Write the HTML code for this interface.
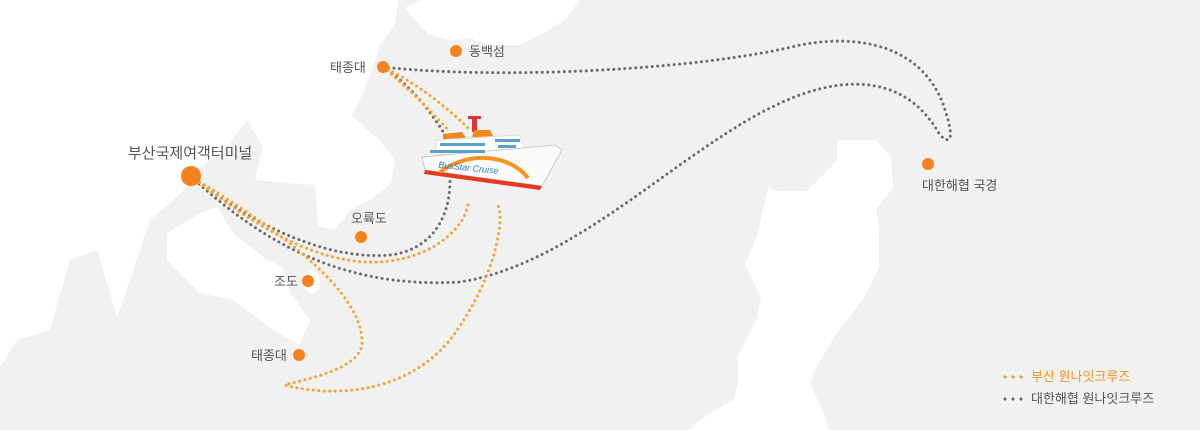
<!DOCTYPE html>
<html><head><meta charset="utf-8"><style>
html,body{margin:0;padding:0}
body{width:1200px;height:430px;overflow:hidden;background:#f1f1f1;font-family:"Liberation Sans","Noto Sans CJK KR",sans-serif}
svg{display:block}
</style></head><body>
<svg width="1200" height="430" viewBox="0 0 1200 430" xmlns="http://www.w3.org/2000/svg">
<!-- water / white areas -->
<path fill="#fff" d="M0,0 H398 L395,25 L380,45 L372,70 L360,100 L352,115 L365,128 L380,140 L395,160 L390,185 L370,200 L350,210 L335,230 L318,226 L315,185 L255,180 L263,147 L247,120 L225,150 L200,167 L187,187 L173,200 L150,220 L130,280 L117,317 L97,250 L70,260 L50,330 L17,340 L0,367 Z"/>
<path fill="#fff" d="M167,233 L200,213 L217,207 L233,233 L267,260 L283,267 L290,293 L310,320 L300,345 L273,330 L233,300 L200,293 L167,260 Z"/>
<ellipse cx="312" cy="282" rx="8" ry="12" fill="#fff"/>
<path fill="#fff" d="M420,0 H580 L565,20 L540,35 L520,45 L490,45 L470,38 L450,40 L430,35 L415,20 L405,8 Z"/>
<path fill="#fff" d="M837,140 L876,140 L891,157 L893,188 L876,209 L879,230 L879,268 L864,298 L837,333 L818,364 L810,383 L822,410 L830,430 L688,430 L707,415 L734,399 L738,383 L738,356 L757,318 L761,298 L745,264 L757,237 L768,188 L780,191 L807,191 L837,161 Z"/>
<g fill="none" stroke-linecap="round" stroke-width="3" stroke-dasharray="0 5.5">
<g stroke="#6b6b6b">
<path d="M383,67 C500,80 700,70 800,45 C880,30 930,60 945,110 C955,140 950,145 940,135 C920,100 890,80 840,85 C720,100 600,260 460,282 C330,290 250,230 190,176"/>
<path d="M190,176 C260,230 330,260 390,255 C430,250 450,220 450,180"/>
<path d="M383,67 C410,85 430,110 445,135"/>
</g>
<g stroke="#f7a030">
<path d="M383,67 C410,90 430,110 450,132"/>
<path d="M383,67 C420,85 450,110 470,130"/>
<path d="M190,176 C260,230 320,265 380,262 C440,258 470,220 468,200"/>
<path d="M190,176 C280,230 360,290 362,340 C365,370 300,380 285,385 C320,395 400,400 450,340 C495,280 505,220 498,205"/>
</g>
</g>
<!-- ship -->
<g>
<rect x="472" y="118" width="5" height="14" fill="#d33"/>
<rect x="468" y="116" width="13" height="3" fill="#d33"/>
<path d="M443,134 L462,132 L466,138 L443,140 Z" fill="#e8871e"/>
<path d="M474,130 L490,130 L494,138 L472,138 Z" fill="#f08a1e"/>
<path d="M436,140 L520,135 L525,150 L436,155 Z" fill="#fff" stroke="#ddd"/>
<path d="M422,157 L555,145 L562,150 L542,186 L425,170 Z" fill="#fafafa" stroke="#ccc"/>
<path d="M425,170 L542,186 L540,190 L424,174 Z" fill="#e53a1e"/>
<path d="M440,172 C470,150 510,155 528,178" fill="none" stroke="#f7931e" stroke-width="4"/>
<g fill="#5aa0c8"><rect x="440" y="143" width="45" height="3"/><rect x="430" y="150" width="55" height="3"/><rect x="495" y="139" width="25" height="3"/><rect x="498" y="145" width="18" height="3"/></g>
<text x="438" y="172" font-size="9" font-style="italic" fill="#2a7fc0" transform="rotate(6 480 170)">BusStar Cruise</text>
</g>
<!-- dots -->
<g fill="#f5821f">
<circle cx="191" cy="176" r="10"/>
<circle cx="383" cy="67" r="6"/>
<circle cx="456" cy="51" r="6"/>
<circle cx="361" cy="237" r="6"/>
<circle cx="308" cy="281" r="6"/>
<circle cx="299" cy="355" r="6"/>
<circle cx="928" cy="164" r="6"/>
</g>
<g font-size="13" fill="#555">
<text x="128" y="158" font-size="15">부산국제여객터미널</text>
<text x="330" y="72">태종대</text>
<text x="469" y="56">동백섬</text>
<text x="351" y="223">오륙도</text>
<text x="274" y="286">조도</text>
<text x="251" y="360">태종대</text>
<text x="922" y="190">대한해협 국경</text>
<text x="1031" y="381" fill="#f7931e">부산 원나잇크루즈</text>
<text x="1031" y="403">대한해협 원나잇크루즈</text>
</g>
<g fill="#f7931e"><circle cx="1005" cy="377" r="1.5"/><circle cx="1013" cy="377" r="1.5"/><circle cx="1021" cy="377" r="1.5"/></g>
<g fill="#666"><circle cx="1005" cy="399" r="1.5"/><circle cx="1013" cy="399" r="1.5"/><circle cx="1021" cy="399" r="1.5"/></g>
</svg>
</body></html>
